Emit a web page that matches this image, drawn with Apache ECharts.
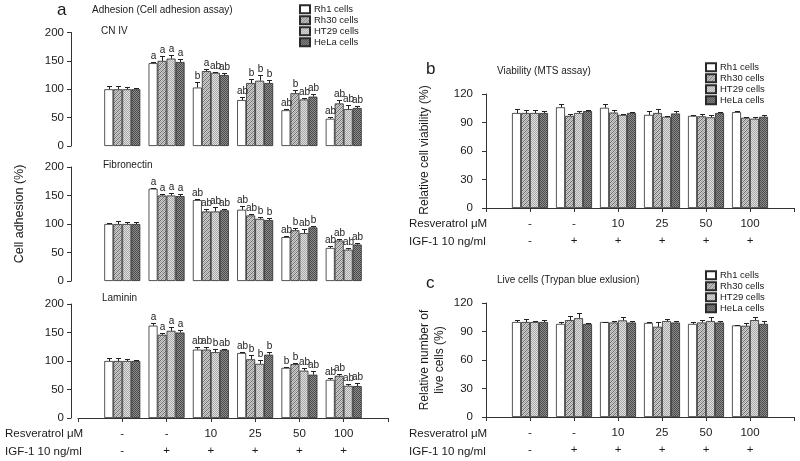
<!DOCTYPE html>
<html>
<head>
<meta charset="utf-8">
<script src="https://cdn.jsdelivr.net/npm/echarts@6/dist/echarts.min.js"></script>
<style>
html,body{margin:0;padding:0;background:#fff;}
#main{width:800px;height:461px;}
</style>
</head>
<body>
<div id="main"></div>
<script>
// ---------- DATA ----------
const cellLines = ['Rh1 cells', 'Rh30 cells', 'HT29 cells', 'HeLa cells'];
const resveratrolLabels = ['-', '-', '10', '25', '50', '100'];
const igfLabels = ['-', '+', '+', '+', '+', '+'];
const adhesionTicks = [0, 50, 100, 150, 200];
const viabilityTicks = [0, 30, 60, 90, 120];

// Panel a - CN IV (rows: Rh1, Rh30, HT29, HeLa)
const cn4Means = [
  [100, 146, 103, 81, 63, 48],
  [100, 150, 132, 111, 93, 75],
  [100, 154, 129, 115, 82, 65],
  [100, 148, 125, 111, 87, 67]
];
const cn4Errors = [
  [5, 2, 9, 5, 2, 3.5],
  [6, 8, 4, 7, 5, 6],
  [4, 6, 2, 10, 2, 8],
  [3, 6, 3, 5, 4, 3]
];
const cn4Letters = [
  ['', 'a', 'b', 'ab', 'ab', 'ab'],
  ['', 'a', 'a', 'b', 'b', 'ab'],
  ['', 'a', 'ab', 'b', 'ab', 'ab'],
  ['', 'a', 'ab', 'b', 'ab', 'ab']
];

// Panel a - Fibronectin
const fnMeans = [
  [100, 162, 142, 125, 77, 58],
  [100, 150, 122, 115, 89, 71],
  [100, 150, 122, 109, 84, 55],
  [100, 149, 124, 107, 94, 64]
];
const fnErrors = [
  [2, 2, 2, 6, 2.5, 3],
  [5, 2, 4, 2, 3.5, 2.5],
  [4, 4, 7, 3, 6.5, 3.5],
  [3, 3, 2, 3, 2, 3.5]
];
const fnLetters = [
  ['', 'a', 'ab', 'ab', 'ab', 'ab'],
  ['', 'a', 'ab', 'ab', 'b', 'ab'],
  ['', 'a', 'ab', 'b', 'ab', 'ab'],
  ['', 'a', 'ab', 'b', 'b', 'ab']
];

// Panel a - Laminin
const lnMeans = [
  [100, 162, 120, 114, 88, 67],
  [100, 146, 120, 103, 94.5, 74],
  [100, 153, 115.5, 95, 83, 56.5],
  [100, 150, 119.5, 111, 76, 56]
];
const lnErrors = [
  [5, 4, 4, 2, 2, 3.5],
  [5, 3.5, 4, 7, 2.5, 3.5],
  [4, 6, 6, 6, 5, 2.5],
  [2, 5, 2, 4, 7, 6]
];
const lnLetters = [
  ['', 'a', 'ab', 'ab', 'b', 'ab'],
  ['', 'a', 'ab', 'b', 'b', 'ab'],
  ['', 'a', 'b', 'b', 'ab', 'ab'],
  ['', 'a', 'ab', 'b', 'ab', 'ab']
];

// Panel b - Viability (MTS assay)
const mtsMeans = [
  [100, 106, 105.5, 98, 97, 101],
  [100, 97, 100.5, 100, 96.5, 95],
  [100, 100, 98, 96, 95.5, 94],
  [100, 102, 100, 99.5, 100, 96]
];
const mtsErrors = [
  [4, 3.5, 4, 4, 1, 1],
  [3, 2, 2.5, 4.5, 2, 0.7],
  [3, 2, 1, 1, 2.5, 1.4],
  [2, 1.5, 1, 2.5, 1, 2]
];

// Panel c - Live cells (Trypan blue exlusion)
const trypanMeans = [
  [100, 98, 100, 99, 98, 96.4],
  [100, 102, 99.5, 95, 99.5, 96],
  [100, 104, 101.7, 101, 101, 102],
  [100, 98, 99.5, 99.5, 99.5, 98]
];
const trypanErrors = [
  [2, 1.5, 0.5, 1, 2.5, 0.7],
  [3.5, 4, 2, 4.5, 3, 3],
  [1, 5, 4, 2, 4.6, 3],
  [2, 1, 1.5, 2, 2, 3]
];

// ---------- STYLE ----------
const FONT = '"Liberation Sans", Arial, sans-serif';
const TXT = '#1a1a1a';
const AX = '#333';
const BAR_W = 9;

function makePattern(size, fn) {
  const c = document.createElement('canvas');
  c.width = size; c.height = size;
  const ctx = c.getContext('2d');
  for (let y = 0; y < size; y++) {
    for (let x = 0; x < size; x++) {
      ctx.fillStyle = fn(x, y);
      ctx.fillRect(x, y, 1, 1);
    }
  }
  return { image: c, repeat: 'repeat' };
}
const fills = [
  '#ffffff',
  makePattern(4, (x, y) => ((x + y) % 4 === 0 ? '#6e6e6e' : ((x + y) % 2 === 0 ? '#a2a2a2' : '#cfcfcf'))),
  makePattern(2, (x, y) => ((x + y) % 2 === 0 ? '#a8a8a8' : '#e0e0e0')),
  makePattern(2, (x, y) => ((x + y) % 2 === 0 ? '#4a4a4a' : '#8e8e8e'))
];

const xCats = ['', ...resveratrolLabels, ''];

const panels = [
  { means: cn4Means, errs: cn4Errors, letters: cn4Letters, grid: { left: 78, top: 32.5, width: 310, height: 113.5 }, ticks: adhesionTicks, showX: false, yOff: 7, yMargin: 7 },
  { means: fnMeans, errs: fnErrors, letters: fnLetters, grid: { left: 78, top: 167, width: 310, height: 114 }, ticks: adhesionTicks, showX: false, yOff: 7, yMargin: 7 },
  { means: lnMeans, errs: lnErrors, letters: lnLetters, grid: { left: 78, top: 304, width: 310, height: 114 }, ticks: adhesionTicks, showX: true, yOff: 7, yMargin: 7 },
  { means: mtsMeans, errs: mtsErrors, letters: null, grid: { left: 486, top: 94, width: 308, height: 114 }, ticks: viabilityTicks, showX: true, yOff: 0, yMargin: 13 },
  { means: trypanMeans, errs: trypanErrors, letters: null, grid: { left: 486, top: 303, width: 308, height: 114 }, ticks: viabilityTicks, showX: true, yOff: 0, yMargin: 13 }
];

const grids = [], xAxes = [], yAxes = [], series = [];

panels.forEach((p, pi) => {
  grids.push(Object.assign({ containLabel: false }, p.grid));
  const tk = p.ticks;
  xAxes.push({
    gridIndex: pi, type: 'category', data: xCats, boundaryGap: false,
    show: p.showX,
    axisLine: { show: true, lineStyle: { color: AX, width: 1 } },
    axisTick: { show: true, length: 4, interval: 0, lineStyle: { color: AX } },
    axisLabel: {
      show: true, interval: 0, margin: 7, fontSize: 11.5, lineHeight: 17.5, color: TXT, fontFamily: FONT,
      formatter: (v, i) => (i >= 1 && i <= resveratrolLabels.length) ? resveratrolLabels[i - 1] + '\n' + igfLabels[i - 1] : ''
    },
    splitLine: { show: false }
  });
  yAxes.push({
    gridIndex: pi, type: 'value', min: tk[0], max: tk[tk.length - 1], interval: tk[1] - tk[0],
    offset: p.yOff,
    axisLine: { show: true, lineStyle: { color: AX, width: 1 } },
    axisTick: { show: true, length: 4, lineStyle: { color: AX } },
    axisLabel: { fontSize: 11.5, margin: p.yMargin, color: TXT, fontFamily: FONT },
    splitLine: { show: false }
  });
  cellLines.forEach((name, s) => {
    series.push({
      type: 'bar', name: name, xAxisIndex: pi, yAxisIndex: pi,
      barWidth: BAR_W, barGap: '0%',
      data: [null, ...p.means[s], null],
      itemStyle: { color: fills[s], borderColor: '#2a2a2a', borderWidth: 0.8 },
      silent: true, animation: false
    });
  });
  cellLines.forEach((name, s) => {
    const letters = p.letters ? p.letters[s] : null;
    series.push({
      type: 'custom', name: 'err', xAxisIndex: pi, yAxisIndex: pi,
      silent: true, animation: false, z: 5, clip: false,
      data: p.means[s].map((m, i) => [i + 1, m, p.errs[s][i]]),
      renderItem: function (params, api) {
        const idx = api.value(0), m = api.value(1), e = api.value(2);
        const base = api.coord([idx, m]);
        const top = api.coord([idx, m + e]);
        const cx = Math.round(base[0] + (s - 1.5) * BAR_W) + 0.5;
        const ty = Math.round(top[1]) + 0.5;
        const children = [
          { type: 'line', shape: { x1: cx, y1: base[1], x2: cx, y2: ty }, style: { stroke: '#222', lineWidth: 1 } },
          { type: 'line', shape: { x1: cx - 2.5, y1: ty, x2: cx + 2.5, y2: ty }, style: { stroke: '#222', lineWidth: 1 } }
        ];
        const lt = letters ? letters[params.dataIndex] : '';
        if (lt) {
          children.push({
            type: 'text', x: cx, y: ty - 1.5,
            style: { text: lt, fontSize: 10, fontFamily: FONT, fill: TXT, align: 'center', verticalAlign: 'bottom' }
          });
        }
        return { type: 'group', children: children };
      }
    });
  });
});

function legendAt(left, top) {
  return {
    data: cellLines, left: left, top: top, orient: 'vertical',
    icon: 'rect', itemWidth: 10, itemHeight: 8, itemGap: 0.5,
    selectedMode: false,
    textStyle: { fontSize: 9.5, lineHeight: 10.5, color: TXT, fontFamily: FONT, padding: [0, 0, 0, -1] },
    padding: 0
  };
}

function txt(x, y, text, size, extra) {
  return Object.assign({
    type: 'text', x: x, y: y,
    style: { text: text, fontSize: size, fontFamily: FONT, fill: TXT, align: 'left', verticalAlign: 'middle' }
  }, extra || {});
}
function vtxt(x, y, text, size, lh) {
  return {
    type: 'text', x: x, y: y, rotation: Math.PI / 2,
    style: { text: text, fontSize: size, fontFamily: FONT, fill: TXT, align: 'center', verticalAlign: 'middle', lineHeight: lh || size * 1.2 }
  };
}

const graphics = [
  txt(57, 10, 'a', 17),
  txt(92, 10, 'Adhesion (Cell adhesion assay)', 10),
  txt(101, 31, 'CN IV', 10),
  txt(103, 165, 'Fibronectin', 10),
  txt(102, 298, 'Laminin', 10),
  vtxt(20, 214, 'Cell adhesion (%)', 12.5),
  txt(5, 434, 'Resveratrol \u03bcM', 11.5),
  txt(5, 452, 'IGF-1 10 ng/ml', 11.5),

  txt(426, 69, 'b', 17),
  txt(497, 71, 'Viability (MTS assay)', 10),
  vtxt(425, 150, 'Relative cell viability (%)', 12),
  txt(409, 224, 'Resveratrol \u03bcM', 11.5),
  txt(409, 242, 'IGF-1 10 ng/ml', 11.5),

  txt(426, 283, 'c', 17),
  txt(497, 280, 'Live cells (Trypan blue exlusion)', 10),
  vtxt(432, 360, 'Relative number of\nlive cells (%)', 12, 15),
  txt(409, 434, 'Resveratrol \u03bcM', 11.5),
  txt(409, 452, 'IGF-1 10 ng/ml', 11.5)
];

const chart = echarts.init(document.getElementById('main'), null, { renderer: 'canvas' });
chart.setOption({
  animation: false,
  backgroundColor: '#ffffff',
  textStyle: { fontFamily: FONT },
  grid: grids,
  xAxis: xAxes,
  yAxis: yAxes,
  legend: [legendAt(299, 4), legendAt(705, 62), legendAt(705, 270)],
  series: series,
  graphic: graphics
});
</script>
</body>
</html>
